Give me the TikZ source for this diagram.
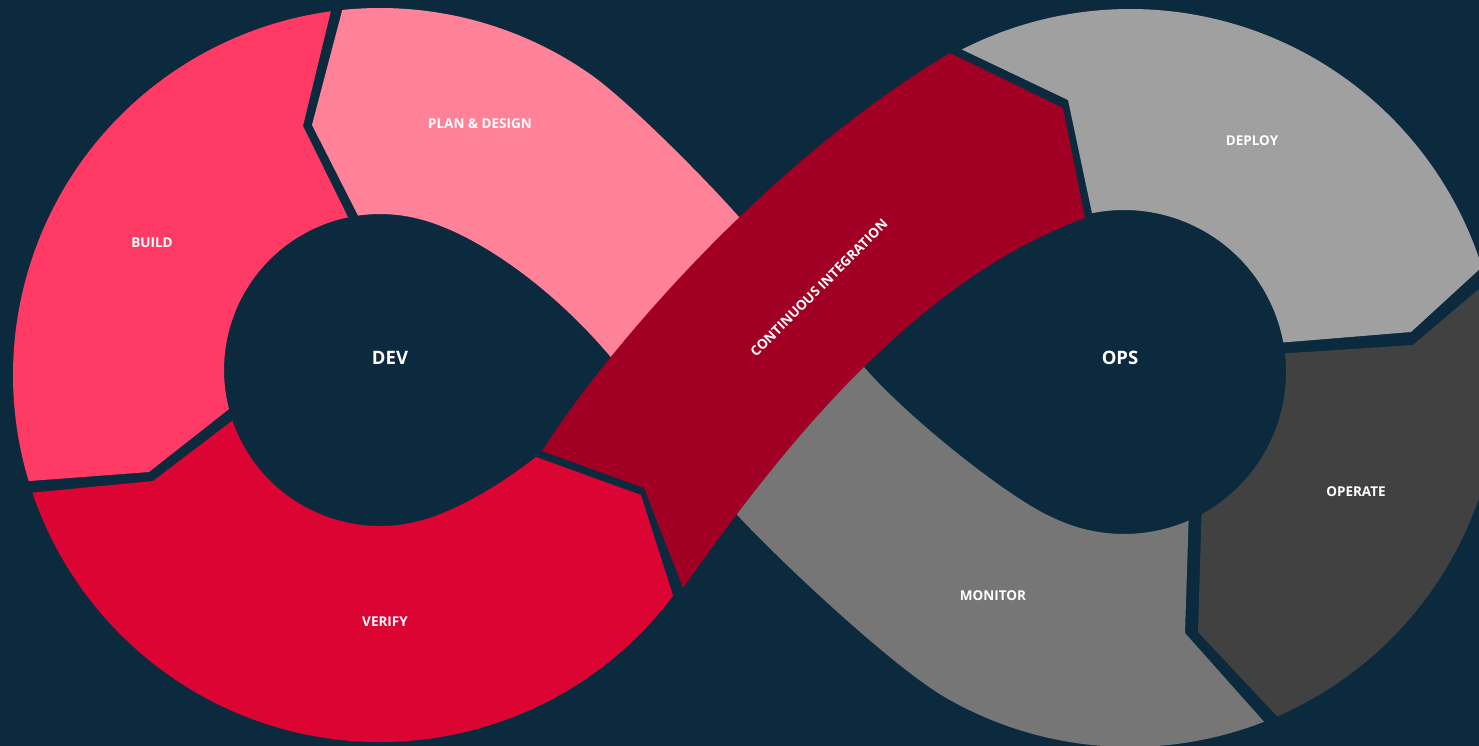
\documentclass[tikz,border=0pt]{standalone}
\usepackage{fontspec}
\setsansfont{Open Sans}
\definecolor{navy}{HTML}{0B2A3E}
\definecolor{buildc}{HTML}{FF3B65}
\definecolor{planc}{HTML}{FF8299}
\definecolor{verifyc}{HTML}{DC0433}
\definecolor{cic}{HTML}{A10024}
\definecolor{deployc}{HTML}{A0A0A0}
\definecolor{monitorc}{HTML}{767676}
\definecolor{operatec}{HTML}{414141}
\begin{document}
\begin{tikzpicture}[x=1pt,y=-1pt,
  seg/.style={fill=#1, draw=none},
  lbl/.style={text=white, font=\sffamily\bfseries\fontsize{13.5}{16}\selectfont, inner sep=0pt, anchor=center},
  hub/.style={text=white, font=\sffamily\bfseries\fontsize{18.5}{22}\selectfont, inner sep=0pt, anchor=center}]
\useasboundingbox (0,0) rectangle (1479,746);
\fill[navy] (0,0) rectangle (1479,746);
\clip (0,0) rectangle (1479,746);

% left loop: outer circle centre (380,375) r 367, hole centre (380,370) r 156
% BUILD
\path[seg=buildc] ([shift={(380,375)}]-97.7:367) -- (303,126)
  -- ([shift={(380,370)}]-101.8:156) arc[start angle=-101.8, end angle=-194.5, radius=156]
  -- (149,472) -- ([shift={(380,375)}]163.2:367) arc[start angle=163.2, end angle=262.3, radius=367] -- cycle;
% VERIFY
\path[seg=verifyc] ([shift={(380,375)}]161.3:367) -- (153,481)
  -- ([shift={(380,370)}]161.1:156) arc[start angle=161.1, end angle=75, radius=156]
  .. controls (459,510.3) and (504,482) .. (536,457) -- (641,495)
  -- ([shift={(380,375)}]37:367) arc[start angle=37, end angle=161.3, radius=367] -- cycle;
% PLAN & DESIGN (runs on under the integration band)
\path[seg=planc] ([shift={(380,375)}]-95.9:367) -- (312,125)
  -- ([shift={(380,370)}]-98.1:156) arc[start angle=-98.1, end angle=-75, radius=156]
  .. controls (470,232) and (545,280) .. (609,355) -- (670,425) -- (800,285) -- (739,217)
  .. controls (706,179.5) and (627.4,100.2) .. ([shift={(380,375)}]-55:367)
  arc[start angle=-55, end angle=-95.9, radius=367] -- cycle;

% right loop: outer circle centre (1130,378) r 369, hole centre (1124,372) r 162
% MONITOR (starts under the integration band)
\path[seg=monitorc] ([shift={(1124,372)}]66.5:162) -- (1185,633)
  -- ([shift={(1130,378)}]68.7:369) arc[start angle=68.7, end angle=120, radius=369]
  .. controls (893.5,667.6) and (781,562) .. (740,518) -- (700,477) -- (820,322) -- (864,367)
  .. controls (905,415) and (1010,500) .. ([shift={(1124,372)}]115:162)
  arc[start angle=115, end angle=66.5, radius=162] -- cycle;
% OPERATE
\path[seg=operatec] ([shift={(1124,372)}]-6.6:162) -- (1413,345)
  -- ([shift={(1130,378)}]-15:369) arc[start angle=-15, end angle=66.5, radius=369]
  -- (1198,632) -- ([shift={(1124,372)}]61.4:162) arc[start angle=61.4, end angle=-6.6, radius=162] -- cycle;
% DEPLOY
\path[seg=deployc] ([shift={(1130,378)}]-117.1:369) -- (1068,100)
  -- ([shift={(1124,372)}]-101.4:162) arc[start angle=-101.4, end angle=-10.5, radius=162]
  -- (1411,332) -- ([shift={(1130,378)}]-17.5:369) arc[start angle=-17.5, end angle=-117.1, radius=369] -- cycle;

% CONTINUOUS INTEGRATION band across the crossing
\path[seg=cic] (542,451) .. controls (610,345) and (770,160) .. (950,53) -- (1063,108) -- (1085,218)
  .. controls (900,285) and (760,480) .. (683,588) -- (644,488) -- cycle;

% labels
\node[lbl] (plan) at (480,124) {PLAN \& DESIGN};
\node[lbl] (build) at (152,243) {BUILD};
\node[lbl] (verify) at (385,622) {VERIFY};
\node[lbl] (deploy) at (1252,141) {DEPLOY};
\node[lbl] (operate) at (1356,492) {OPERATE};
\node[lbl] (monitor) at (993,596) {MONITOR};
\node[lbl, rotate=45] (ci) at (819,288) {CONTINUOUS INTEGRATION};
\node[hub] (dev) at (390,358) {DEV};
\node[hub] (ops) at (1120,358) {OPS};
\end{tikzpicture}
\end{document}
